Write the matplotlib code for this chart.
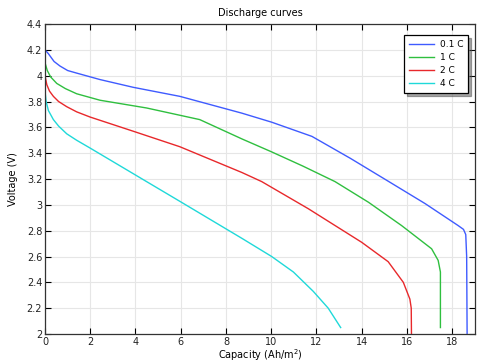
import matplotlib
matplotlib.use("Agg")
import matplotlib.pyplot as plt

# ---------------------------------------------------------------------
# Data
# ---------------------------------------------------------------------
labels = ["0.1 C", "1 C", "2 C", "4 C"]
colors = ["#3f5bff", "#2fbf3f", "#e8282b", "#1fd9d9"]

cap_01 = [0, 0.15, 0.4, 0.66, 1.0, 1.4, 2.43, 3.9, 5.96, 8.7, 10.02, 11.8,
          13.5, 15.2, 16.8, 18.26, 18.5, 18.6, 18.64, 18.66]
v_01 = [4.2, 4.17, 4.11, 4.075, 4.04, 4.02, 3.97, 3.91, 3.84, 3.71, 3.64, 3.53,
        3.36, 3.18, 3.01, 2.84, 2.81, 2.77, 2.6, 2.0]

cap_1 = [0, 0.1, 0.25, 0.52, 0.9, 1.4, 2.43, 4.49, 6.84, 8.71, 10.02, 11.4,
         12.82, 14.3, 15.76, 17.09, 17.38, 17.48, 17.48]
v_1 = [4.1, 4.04, 3.99, 3.94, 3.9, 3.86, 3.81, 3.75, 3.66, 3.51, 3.41, 3.30,
       3.18, 3.02, 2.84, 2.66, 2.57, 2.48, 2.05]

cap_2 = [0, 0.08, 0.2, 0.37, 0.6, 0.96, 1.4, 1.99, 3.9, 5.96, 8.71, 9.58,
         11.64, 14.0, 15.17, 15.84, 16.13, 16.19, 16.2]
v_2 = [4.0, 3.93, 3.88, 3.84, 3.8, 3.76, 3.72, 3.68, 3.57, 3.45, 3.25, 3.18,
       2.97, 2.71, 2.56, 2.40, 2.27, 2.2, 2.0]

cap_4 = [0, 0.05, 0.15, 0.37, 0.6, 0.96, 1.4, 1.99, 4.49, 6.03, 8.71, 10.02,
         10.98, 11.86, 12.52, 13.07]
v_4 = [3.88, 3.8, 3.73, 3.66, 3.61, 3.55, 3.5, 3.44, 3.18, 3.02, 2.74, 2.60,
       2.48, 2.33, 2.20, 2.05]

capacities = [cap_01, cap_1, cap_2, cap_4]
voltages = [v_01, v_1, v_2, v_4]

# ---------------------------------------------------------------------
# Plot
# ---------------------------------------------------------------------
fig = plt.figure(figsize=(4.84, 3.64), dpi=100)
ax = fig.add_axes([0.093, 0.0824, 0.888, 0.8516])

for x, y, c, lab in zip(capacities, voltages, colors, labels):
    ax.plot(x, y, color=c, linewidth=1.0, label=lab)

ax.set_xlim(0, 19)
ax.set_ylim(2, 4.4)
ax.set_xticks(range(0, 19, 2))
ax.set_yticks([2, 2.2, 2.4, 2.6, 2.8, 3, 3.2, 3.4, 3.6, 3.8, 4, 4.2, 4.4])
ax.set_yticklabels(["2", "2.2", "2.4", "2.6", "2.8", "3", "3.2", "3.4",
                    "3.6", "3.8", "4", "4.2", "4.4"])
ax.tick_params(direction="in", top=True, right=True, labelsize=7, length=4,
               width=0.8, pad=2, labelcolor="#222222")
ax.grid(True, color="#e6e6e6", linewidth=0.8)
ax.set_axisbelow(True)
for s in ax.spines.values():
    s.set_linewidth(0.9)
    s.set_color("#333333")

ax.set_title("Discharge curves", fontsize=7, pad=6)
ax.set_xlabel("Capacity (Ah/m$^2$)", fontsize=7, labelpad=0)
ax.set_ylabel("Voltage (V)", fontsize=7, labelpad=6)

leg = ax.legend(loc="upper right", fontsize=6.5, frameon=True, fancybox=False,
                shadow=True, borderpad=0.55, handlelength=2.8,
                handletextpad=0.6, labelspacing=0.45, borderaxespad=0,
                bbox_to_anchor=(0.985, 0.965))
leg.get_frame().set_edgecolor("black")
leg.get_frame().set_linewidth(0.9)

fig.savefig("out.png", dpi=100)
